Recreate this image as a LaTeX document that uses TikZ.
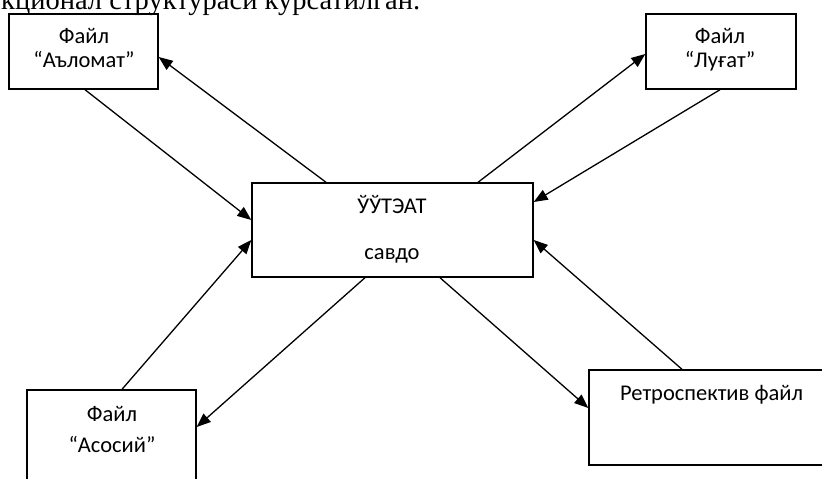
\documentclass[tikz,border=0pt]{standalone}
\usepackage{fontspec}
\setmainfont{Carlito}
\newfontfamily\headserif{Liberation Serif}
\usetikzlibrary{arrows.meta}

\begin{document}
\begin{tikzpicture}[x=1bp,y=-1bp,
  box/.style={draw, line width=1.4bp, inner sep=0pt},
  lbl/.style={font=\fontsize{22.5bp}{26bp}\selectfont, anchor=base, inner sep=0pt},
  link/.style={line width=1.3bp, -{Triangle[length=14bp,width=11bp]}}]

\useasboundingbox (0,0) rectangle (822,479);
\clip (0,0) rectangle (822,479);

% heading line, cut by the top edge
\node[font=\headserif\fontsize{28.5bp}{31bp}\selectfont, anchor=base west, inner sep=0pt]
  (head) at (1,10) {кционал структураси курсатилган.};

% boxes
\node[box, minimum width=149bp, minimum height=75bp] (A) at (83.5,51.5) {};
\node[box, minimum width=150bp, minimum height=75bp] (L) at (721,51.5) {};
\node[box, minimum width=281bp, minimum height=94bp] (C) at (392.5,230) {};
\node[box, minimum width=169bp, minimum height=120bp] (S) at (111.5,450) {};
\node[box, minimum width=245bp, minimum height=95bp] (R) at (711.5,417.5) {};

% box texts
\node[lbl] (a1) at (84,44) {Файл};
\node[lbl] (a2) at (84,68) {“Аъломат”};
\node[lbl] (l1) at (720,44) {Файл};
\node[lbl] (l2) at (720,68) {“Луғат”};
\node[lbl] (c1) at (392,214) {ЎЎТЭАТ};
\node[lbl] (c2) at (392,260) {савдо};
\node[lbl] (s1) at (112,421) {Файл};
\node[lbl] (s2) at (112,452) {“Асосий”};
\node[lbl] (r1) at (711.5,400) {Ретроспектив файл};

% connectors
\draw[link] ([xshift=1.5bp]A.south) -- ([yshift=10bp]C.west);
\draw[link] ([xshift=-66.5bp]C.north) -- ([yshift=-5.5bp]A.east);
\draw[link] ([xshift=85.5bp]C.north) -- ([yshift=-2.5bp]L.west);
\draw[link] ([xshift=-1bp]L.south) -- ([yshift=28bp]C.east);
\draw[link] ([xshift=10.5bp]S.north) -- ([yshift=-10bp]C.west);
\draw[link] ([xshift=-27.5bp]C.south) -- ([yshift=23bp]S.east);
\draw[link] ([xshift=47.5bp]C.south) -- ([yshift=9.5bp]R.west);
\draw[link] ([xshift=-29.5bp]R.north) -- ([yshift=-10bp]C.east);

\end{tikzpicture}
\end{document}
